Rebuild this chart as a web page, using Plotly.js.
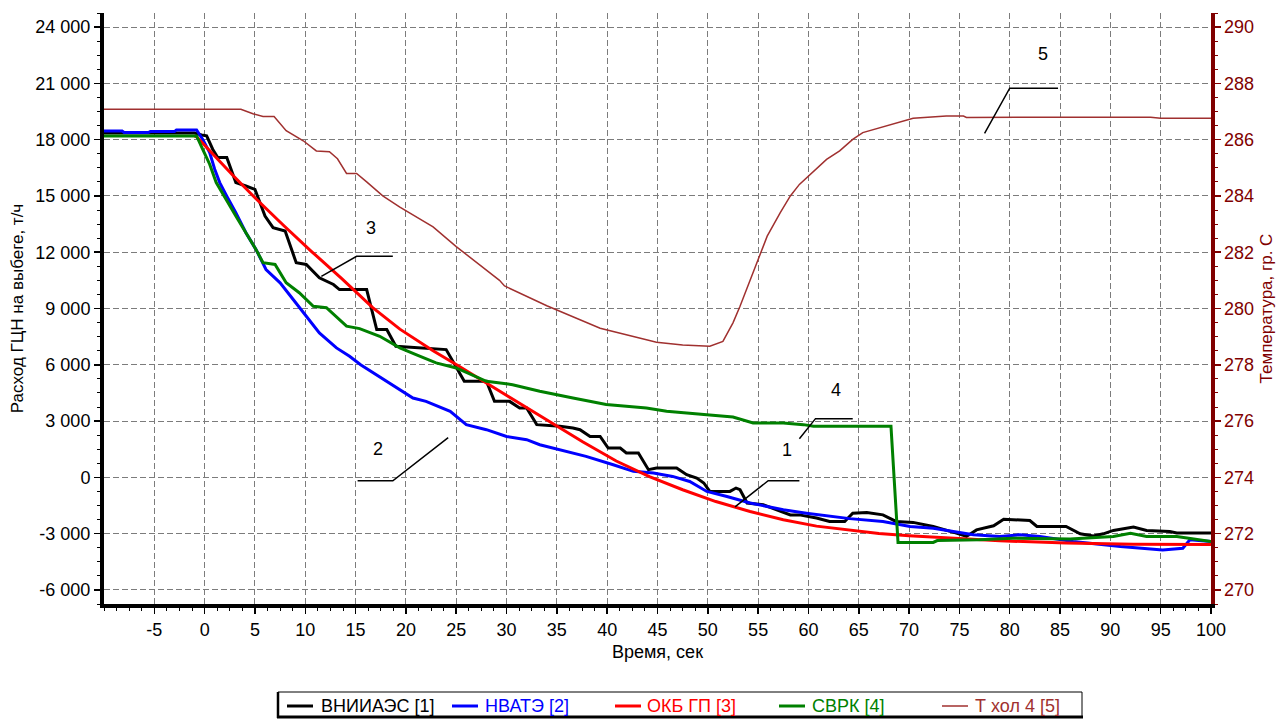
<!DOCTYPE html>
<html>
<head>
<meta charset="utf-8">
<script src="https://cdn.plot.ly/plotly-3.0.1.min.js"></script>
<style>
  html, body { margin: 0; padding: 0; background: #ffffff; }
  #chart { width: 1281px; height: 720px; }
</style>
</head>
<body>
<div id="chart"></div>
<script>
// Series names (legend order)
const seriesNames = ['ВНИИАЭС [1]', 'НВАТЭ [2]', 'ОКБ ГП [3]', 'СВРК [4]', 'Т хол 4 [5]'];
const seriesColors = ['#000000', '#0000ff', '#ff0000', '#008000', '#a0302f'];

// [1] ВНИИАЭС, flow, t/h
const tVniiaes = [-10, -1, -0.3, 0.2, 0.8, 1.3, 2.2, 3.1, 4.1, 5.0, 6.0, 6.8, 8.0, 9.1, 10.1, 11.4, 12.8, 13.4, 16.1, 17.1, 18.1, 19.0, 24.0, 25.8, 28.0, 28.8, 30.3, 31.3, 32.0, 33.0, 35.3, 36.6, 37.3, 38.3, 39.3, 40.1, 41.3, 41.9, 43.1, 44.1, 44.9, 46.9, 47.9, 48.9, 49.6, 50.2, 52.2, 52.8, 53.2, 53.9, 55.5, 58.2, 59.1, 60.8, 62.1, 63.6, 64.4, 65.8, 67.4, 68.7, 70.4, 72.4, 74.7, 75.7, 76.7, 78.4, 79.4, 82.0, 82.7, 85.6, 87.0, 88.3, 89.3, 90.3, 92.3, 93.6, 95.9, 96.6, 100];
const qVniiaes = [18350, 18350, 18250, 18200, 17490, 17050, 17050, 15710, 15530, 15350, 13930, 13310, 13130, 11440, 11350, 10640, 10280, 10010, 10010, 7880, 7880, 6990, 6810, 5120, 5120, 4050, 4050, 3700, 3700, 2810, 2720, 2630, 2540, 2180, 2180, 1560, 1560, 1300, 1300, 410, 500, 500, 140, -40, -300, -750, -750, -570, -660, -1370, -1460, -2000, -2000, -2170, -2350, -2350, -1910, -1870, -2000, -2350, -2400, -2620, -2970, -3150, -2800, -2580, -2230, -2300, -2620, -2620, -3010, -3120, -3010, -2830, -2650, -2830, -2890, -2970, -2970];

// [2] НВАТЭ, flow, t/h
const tNvate = [-10, -8.2, -8.0, -5.6, -5.4, -3.0, -2.8, -0.8, -0.2, 0.5, 1.0, 1.5, 2.2, 3.1, 4.1, 5.1, 6.1, 7.5, 8.8, 10.1, 11.4, 13.1, 14.4, 15.5, 17.4, 19.4, 20.7, 22.0, 24.4, 26.0, 28.0, 30.0, 32.0, 33.3, 35.3, 37.9, 40.6, 42.6, 44.6, 46.5, 48.2, 49.9, 51.9, 54.2, 55.9, 57.5, 59.8, 62.5, 64.1, 67.4, 70.1, 72.4, 74.7, 76.4, 79.0, 81.0, 83.0, 86.3, 91.0, 95.2, 97.2, 97.9, 100];
const qNvate = [18460, 18460, 18380, 18380, 18430, 18430, 18520, 18520, 18020, 17310, 16420, 15710, 14990, 14110, 13040, 12150, 11080, 10370, 9480, 8590, 7700, 6900, 6450, 6000, 5350, 4680, 4230, 4050, 3520, 2810, 2540, 2180, 2010, 1740, 1470, 1120, 670, 320, 230, 50, -220, -750, -1020, -1370, -1550, -1730, -1910, -2090, -2200, -2350, -2620, -2710, -2890, -3060, -3150, -3060, -3150, -3420, -3690, -3870, -3780, -3330, -3420];

// [3] ОКБ ГП, flow, t/h
const tOkbgp = [-1, -0.8, 2.8, 5.1, 7.8, 10.6, 13.6, 16.7, 19.4, 22.7, 25.2, 27.6, 31.0, 34.3, 37.6, 40.9, 44.2, 47.5, 50.8, 54.2, 57.5, 60.8, 64.1, 67.0, 70.0, 74.1, 79.0, 85.6, 92.3, 100];
const qOkbgp = [18200, 18150, 16100, 14850, 13450, 12050, 10610, 9050, 7900, 6750, 5950, 5160, 4050, 2950, 1880, 870, 40, -660, -1290, -1820, -2260, -2600, -2820, -2990, -3110, -3240, -3380, -3500, -3560, -3580];

// [4] СВРК, flow, t/h
const tSvrk = [-10, -0.8, -0.2, 0.5, 1.15, 2.1, 3.1, 4.1, 5.1, 5.8, 7.0, 8.1, 9.4, 10.8, 12.1, 14.1, 15.4, 17.4, 19.4, 21.0, 23.0, 25.0, 28.0, 30.6, 33.3, 36.6, 39.9, 43.9, 45.9, 49.9, 52.5, 54.5, 57.5, 59.5, 60.5, 68.2, 68.9, 72.4, 72.8, 77.0, 80.3, 86.0, 90.3, 92.0, 93.6, 96.6, 98.9, 100];
const qSvrk = [18200, 18200, 17490, 16690, 15710, 14820, 13930, 13040, 12150, 11440, 11350, 10370, 9840, 9120, 9040, 8060, 7930, 7520, 6900, 6540, 6100, 5830, 5120, 4940, 4590, 4230, 3880, 3700, 3520, 3340, 3220, 2900, 2900, 2810, 2720, 2720, -3470, -3470, -3370, -3330, -3240, -3290, -3150, -2980, -3150, -3150, -3330, -3420];

// [5] Т хол 4, cold-leg temperature, °C
const tTcold = [-10, 3.6, 4.8, 5.8, 6.9, 8.1, 9.8, 11.1, 12.4, 13.2, 14.1, 15.1, 16.1, 17.7, 19.4, 22.7, 25.0, 29.3, 29.8, 34.0, 39.3, 44.9, 47.5, 50.2, 51.5, 52.5, 53.2, 54.2, 55.2, 55.9, 57.2, 58.2, 59.1, 60.5, 61.8, 63.1, 64.4, 65.4, 67.1, 68.8, 70.4, 73.7, 75.4, 75.7, 94.0, 95.0, 100];
const vTcold = [287.08, 287.08, 286.92, 286.82, 286.82, 286.32, 285.96, 285.60, 285.57, 285.32, 284.80, 284.80, 284.50, 284.00, 283.60, 282.90, 282.20, 281.00, 280.80, 280.10, 279.30, 278.80, 278.70, 278.66, 278.83, 279.49, 280.08, 281.03, 281.98, 282.57, 283.41, 284.00, 284.41, 284.89, 285.30, 285.60, 286.01, 286.25, 286.43, 286.61, 286.76, 286.84, 286.84, 286.79, 286.80, 286.76, 286.76];

// Axis ticks
const xTicks = [-5, 0, 5, 10, 15, 20, 25, 30, 35, 40, 45, 50, 55, 60, 65, 70, 75, 80, 85, 90, 95, 100];
const yTicks = [-6000, -3000, 0, 3000, 6000, 9000, 12000, 15000, 18000, 21000, 24000];
const yTickText = ['-6 000', '-3 000', '0', '3 000', '6 000', '9 000', '12 000', '15 000', '18 000', '21 000', '24 000'];
const tempTicks = [270, 272, 274, 276, 278, 280, 282, 284, 286, 288, 290];

// Curve markers: label text, label position, leader polyline (time, flow)
const markerLabels = ['5', '3', '2', '4', '1'];
const markerLabelX = [83.3, 16.5, 17.2, 62.7, 57.9];
const markerLabelY = [22560, 13270, 1530, 4680, 1470];
const leaderLines = [
  [[77.5, 18340], [80.0, 20740], [84.8, 20740]],
  [[11.6, 10710], [15.1, 11780], [18.7, 11780]],
  [[15.2, -180], [18.7, -180], [24.2, 2120]],
  [[59.1, 2060], [60.7, 3130], [64.4, 3130]],
  [[52.7, -1570], [56.0, -180], [59.1, -180]]
];

const FONT = 'Liberation Sans, Arial, Helvetica, sans-serif';
const MAROON = '#800000';

// plot frame in page pixels, used to place the legend box below the plot
const frame = { l: 104, r: 1211, t: 13, b: 604 };
const px = x => (x - frame.l) / (frame.r - frame.l);
const py = y => (frame.b - y) / (frame.b - frame.t);

const flowSets = [
  [tVniiaes, qVniiaes],
  [tNvate, qNvate],
  [tOkbgp, qOkbgp],
  [tSvrk, qSvrk]
];

const traces = flowSets.map((s, i) => ({
  type: 'scatter', mode: 'lines',
  x: s[0], y: s[1], name: seriesNames[i],
  line: { color: seriesColors[i], width: 3 },
  yaxis: 'y', showlegend: false, hoverinfo: 'skip'
}));
traces.push({
  type: 'scatter', mode: 'lines',
  x: tTcold, y: vTcold, name: seriesNames[4],
  line: { color: seriesColors[4], width: 1.5 },
  yaxis: 'y2', showlegend: false, hoverinfo: 'skip'
});

const shapes = [];
const annotations = [];

// leader lines and curve numbers
leaderLines.forEach(pts => {
  shapes.push({
    type: 'path', xref: 'x', yref: 'y',
    path: pts.map((p, k) => (k ? 'L' : 'M') + p[0] + ',' + p[1]).join(' '),
    line: { color: '#000000', width: 1.5 }
  });
});
markerLabels.forEach((txt, i) => {
  annotations.push({
    xref: 'x', yref: 'y', x: markerLabelX[i], y: markerLabelY[i],
    text: txt, showarrow: false, xanchor: 'center', yanchor: 'middle',
    font: { family: FONT, size: 18, color: '#000000' }
  });
});

// legend box with line samples
shapes.push({ type: 'rect', xref: 'paper', yref: 'paper',
  x0: px(278), x1: px(1082), y0: py(692), y1: py(717),
  line: { color: '#000000', width: 1 }, fillcolor: '#ffffff' });
shapes.push({ type: 'line', xref: 'paper', yref: 'paper',
  x0: px(278), x1: px(278), y0: py(692), y1: py(718),
  line: { color: '#000000', width: 2.5 } });
shapes.push({ type: 'line', xref: 'paper', yref: 'paper',
  x0: px(277), x1: px(1083), y0: py(717), y1: py(717),
  line: { color: '#000000', width: 3 } });

const legSampleX = [287, 452, 615, 779, 942];
const legTextX = [319, 483, 645, 810, 973];
const legY = 706;
seriesNames.forEach((nm, i) => {
  shapes.push({ type: 'line', xref: 'paper', yref: 'paper',
    x0: px(legSampleX[i]), x1: px(legSampleX[i] + 26), y0: py(legY), y1: py(legY),
    line: { color: seriesColors[i], width: i === 4 ? 1.5 : 3 } });
  annotations.push({
    xref: 'paper', yref: 'paper', x: px(legTextX[i]), y: py(legY),
    text: nm, showarrow: false, xanchor: 'left', yanchor: 'middle',
    font: { family: FONT, size: 18, color: seriesColors[i] }
  });
});

const gridStyle = { showgrid: true, gridcolor: '#7c7c7c', gridwidth: 1, griddash: '6px,3px' };

const layout = {
  width: 1281, height: 720,
  margin: { l: frame.l, r: 1281 - frame.r, t: frame.t, b: 720 - frame.b },
  paper_bgcolor: '#ffffff', plot_bgcolor: '#ffffff',
  font: { family: FONT, size: 18, color: '#000000' },
  showlegend: false,
  xaxis: Object.assign({
    range: [-10, 100], tickmode: 'array', tickvals: xTicks, ticktext: xTicks.map(String),
    showline: true, linecolor: '#000000', linewidth: 4,
    ticks: 'outside', ticklen: 6, tickwidth: 1.5, tickcolor: '#000000',
    minor: { tickmode: 'linear', tick0: -10, dtick: 1.25, ticks: 'outside', ticklen: 3, tickwidth: 1, tickcolor: '#000000', showgrid: false },
    zeroline: false, tickfont: { family: FONT, size: 18, color: '#000000' },
    title: { text: 'Время, сек', font: { family: FONT, size: 18, color: '#000000' }, standoff: 8 }
  }, gridStyle),
  yaxis: Object.assign({
    range: [-6750, 24750], tickmode: 'array', tickvals: yTicks, ticktext: yTickText,
    showline: true, linecolor: '#000000', linewidth: 4,
    ticks: 'outside', ticklen: 6, tickwidth: 1.5, tickcolor: '#000000',
    minor: { tickmode: 'linear', tick0: 0, dtick: 750, ticks: 'outside', ticklen: 3, tickwidth: 1, tickcolor: '#000000', showgrid: false },
    zeroline: false, tickfont: { family: FONT, size: 18, color: '#000000' },
    title: { text: 'Расход ГЦН на выбеге, т/ч', font: { family: FONT, size: 17, color: '#000000' }, standoff: 8 }
  }, gridStyle),
  yaxis2: {
    overlaying: 'y', side: 'right',
    range: [269.5, 290.5], tickmode: 'array', tickvals: tempTicks, ticktext: tempTicks.map(String),
    showline: true, linecolor: MAROON, linewidth: 3.5,
    ticks: 'outside', ticklen: 6, tickwidth: 1.5, tickcolor: MAROON,
    minor: { tickmode: 'linear', tick0: 270, dtick: 0.5, ticks: 'outside', ticklen: 3, tickwidth: 1, tickcolor: MAROON, showgrid: false },
    showgrid: false, zeroline: false,
    tickfont: { family: FONT, size: 18, color: MAROON },
    title: { text: 'Температура, гр. С', font: { family: FONT, size: 17, color: MAROON }, standoff: 8 }
  },
  shapes: shapes,
  annotations: annotations
};

Plotly.newPlot('chart', traces, layout, { staticPlot: true, displayModeBar: false, responsive: false });
</script>
</body>
</html>
